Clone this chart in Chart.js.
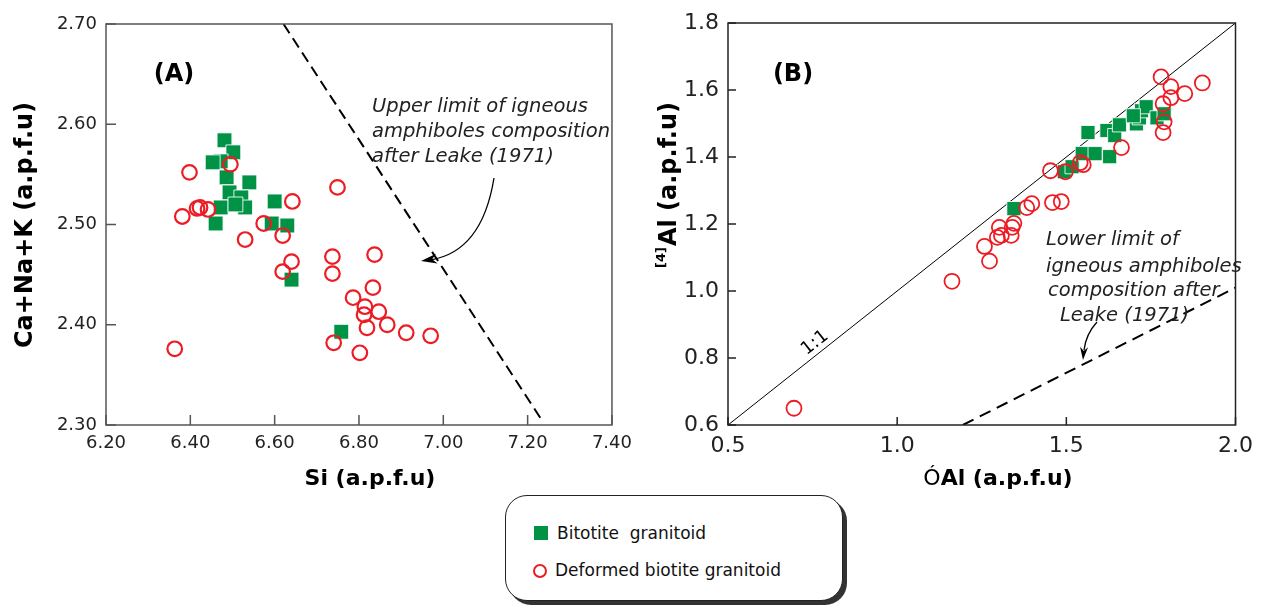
<!DOCTYPE html>
<html>
<head>
<meta charset="utf-8">
<script src="https://cdn.jsdelivr.net/npm/chart.js@4.4.1/dist/chart.umd.min.js"></script>
<style>
  html, body { margin: 0; padding: 0; background: #fff; }
  body { width: 1261px; height: 606px; position: relative; overflow: hidden; font-family: "DejaVu Sans", sans-serif; }
  #wrapA { position: absolute; left: 0; top: 0; width: 640px; height: 490px; }
  #wrapB { position: absolute; left: 640px; top: 0; width: 621px; height: 490px; }
  #legend { position: absolute; left: 505px; top: 495px; width: 336px; height: 104px; border: 1.5px solid #222; border-radius: 22px; box-shadow: 4px 4px 0 #333; background: #fff; }
  .li { position: absolute; font-size: 17px; color: #111; white-space: pre; line-height: 20px; }
  .sq { position: absolute; width: 14px; height: 14px; background: #009245; }
  .ci { position: absolute; width: 10px; height: 10px; border: 2px solid #ed1c24; border-radius: 50%; }
</style>
</head>
<body>
<div id="wrapA"><canvas id="cA" width="640" height="490"></canvas></div>
<div id="wrapB"><canvas id="cB" width="621" height="490"></canvas></div>
<div id="legend">
  <div class="sq" style="left:28px; top:30px;"></div>
  <div class="li" id="lab1" style="left:51px; top:27px;"></div>
  <div class="ci" style="left:27px; top:68px;"></div>
  <div class="li" id="lab2" style="left:49px; top:64px;"></div>
</div>
<script>
// ---------- DATA ----------
const seriesNames = ["Bitotite  granitoid", "Deformed biotite granitoid"];

// Panel A : Si vs Ca+Na+K
const siBiotite   = [6.481, 6.502, 6.472, 6.453, 6.486, 6.540, 6.493, 6.521, 6.530, 6.472, 6.507, 6.600, 6.460, 6.593, 6.630, 6.640, 6.758];
const cnkBiotite  = [2.584, 2.572, 2.563, 2.562, 2.547, 2.542, 2.532, 2.527, 2.517, 2.517, 2.520, 2.523, 2.501, 2.501, 2.499, 2.445, 2.393];
const siDeformed  = [6.363, 6.381, 6.398, 6.416, 6.423, 6.442, 6.495, 6.530, 6.574, 6.619, 6.642, 6.640, 6.619, 6.749, 6.737, 6.837, 6.737, 6.833, 6.786, 6.814, 6.847, 6.812, 6.819, 6.867, 6.912, 6.970, 6.740, 6.802];
const cnkDeformed = [2.376, 2.508, 2.552, 2.516, 2.517, 2.515, 2.560, 2.485, 2.501, 2.489, 2.523, 2.463, 2.453, 2.537, 2.468, 2.470, 2.451, 2.437, 2.427, 2.418, 2.413, 2.410, 2.397, 2.400, 2.392, 2.389, 2.382, 2.372];
const upperLimitSi  = [6.621, 7.235];
const upperLimitCnk = [2.700, 2.304];

// Panel B : total Al vs [4]Al
const alTotBiotite   = [1.345, 1.494, 1.517, 1.547, 1.585, 1.628, 1.564, 1.620, 1.643, 1.657, 1.707, 1.716, 1.722, 1.736, 1.768, 1.789, 1.698];
const al4Biotite     = [1.246, 1.356, 1.371, 1.410, 1.410, 1.401, 1.473, 1.479, 1.464, 1.496, 1.499, 1.517, 1.538, 1.550, 1.517, 1.529, 1.523];
const alTotDeformed  = [0.695, 1.162, 1.273, 1.258, 1.296, 1.302, 1.308, 1.337, 1.340, 1.345, 1.383, 1.398, 1.459, 1.485, 1.453, 1.497, 1.541, 1.550, 1.663, 1.780, 1.809, 1.850, 1.902, 1.809, 1.786, 1.789, 1.786];
const al4Deformed    = [0.650, 1.029, 1.089, 1.133, 1.160, 1.190, 1.166, 1.166, 1.190, 1.202, 1.249, 1.261, 1.264, 1.267, 1.359, 1.356, 1.383, 1.377, 1.428, 1.639, 1.610, 1.589, 1.621, 1.577, 1.559, 1.505, 1.473];
const oneToOneX = [0.5, 2.0];
const oneToOneY = [0.6, 1.8];
const lowerLimitX = [1.194, 2.0];
const lowerLimitY = [0.6, 1.01];

const ticksA_x = [6.2, 7.4, 0.2];
const ticksA_y = [2.3, 2.7, 0.1];
const ticksB_x = [0.5, 2.0, 0.5];
const ticksB_y = [0.6, 1.8, 0.2];

// ---------- HELPERS ----------
const pts = (xs, ys) => xs.map((x, i) => ({ x: x, y: ys[i] }));
const GREEN = "#009245", RED = "#ed1c24";
const FONT = "'DejaVu Sans', sans-serif";

document.getElementById("lab1").textContent = seriesNames[0];
document.getElementById("lab2").textContent = seriesNames[1];

function arrowHead(ctx, x, y, ang, len, wid) {
  ctx.save();
  ctx.translate(x, y); ctx.rotate(ang);
  ctx.beginPath(); ctx.moveTo(0, 0); ctx.lineTo(-len, -wid / 2); ctx.lineTo(-len * 0.7, 0); ctx.lineTo(-len, wid / 2); ctx.closePath();
  ctx.fillStyle = "#000"; ctx.fill();
  ctx.restore();
}

function frameAndTicks(chart, color, len) {
  const ctx = chart.ctx, a = chart.chartArea;
  ctx.save();
  ctx.strokeStyle = color; ctx.lineWidth = 1.5;
  ctx.strokeRect(a.left, a.top, a.right - a.left, a.bottom - a.top);
  const xs = chart.scales.x, ys = chart.scales.y;
  ctx.beginPath();
  xs.ticks.forEach(t => { const p = xs.getPixelForValue(t.value); ctx.moveTo(p, a.bottom); ctx.lineTo(p, a.bottom - len); });
  ys.ticks.forEach(t => { const p = ys.getPixelForValue(t.value); ctx.moveTo(a.left, p); ctx.lineTo(a.left + len, p); });
  ctx.stroke();
  ctx.restore();
}

const decorA = {
  id: "decorA",
  afterDraw(chart) {
    const ctx = chart.ctx;
    frameAndTicks(chart, "#555", 10);
    ctx.save();
    ctx.fillStyle = "#000";
    ctx.font = "bold 22px " + FONT; ctx.textAlign = "center"; ctx.textBaseline = "middle";
    ctx.fillText("Si (a.p.f.u)", 370, 479);
    ctx.save(); ctx.translate(26, 225); ctx.rotate(-Math.PI / 2);
    ctx.font = "bold 24px " + FONT;
    ctx.fillText("Ca+Na+K (a.p.f.u)", 0, 0); ctx.restore();
    ctx.font = "bold 24px " + FONT; ctx.fillText("(A)", 174, 75);
    ctx.font = "italic 19.5px " + FONT; ctx.textAlign = "left";
    ctx.fillStyle = "#222";
    ctx.fillText("Upper limit of igneous", 372, 107);
    ctx.fillText("amphiboles composition", 372, 132);
    ctx.fillText("after Leake (1971)", 372, 157);
    ctx.strokeStyle = "#000"; ctx.lineWidth = 1.3;
    ctx.beginPath(); ctx.moveTo(494, 178); ctx.quadraticCurveTo(482, 252, 430, 260); ctx.stroke();
    arrowHead(ctx, 421, 261, Math.PI - 0.15, 16, 10);
    ctx.restore();
  }
};

const decorB = {
  id: "decorB",
  afterDraw(chart) {
    const ctx = chart.ctx;
    frameAndTicks(chart, "#222", 8);
    const ox = -640;
    ctx.save();
    ctx.fillStyle = "#000"; ctx.textBaseline = "middle";
    // x title
    ctx.font = "22px " + FONT; const w1 = ctx.measureText("Ó").width;
    ctx.font = "bold 22px " + FONT; const w2 = ctx.measureText("Al (a.p.f.u)").width;
    let sx = 998 + ox - (w1 + w2) / 2;
    ctx.textAlign = "left";
    ctx.font = "22px " + FONT; ctx.fillText("Ó", sx, 479);
    ctx.font = "bold 22px " + FONT; ctx.fillText("Al (a.p.f.u)", sx + w1, 479);
    // y title
    ctx.save(); ctx.translate(670 + ox, 268); ctx.rotate(-Math.PI / 2);
    ctx.font = "bold 13px " + FONT; const ws = ctx.measureText("[4]").width;
    ctx.fillText("[4]", 0, -8);
    ctx.font = "bold 24px " + FONT; ctx.fillText("Al (a.p.f.u)", ws + 1, 0);
    ctx.restore();
    // panel label
    ctx.textAlign = "center";
    ctx.font = "bold 24px " + FONT; ctx.fillText("(B)", 793 + ox, 75);
    // 1:1
    ctx.save(); ctx.translate(815 + ox, 343); ctx.rotate(-0.665);
    ctx.font = "18px " + FONT; ctx.fillText("1:1", 0, 0); ctx.restore();
    // annotation
    ctx.textAlign = "left"; ctx.fillStyle = "#222";
    ctx.font = "italic 19.5px " + FONT;
    ctx.fillText("Lower limit of", 1046 + ox, 240);
    ctx.fillText("igneous amphiboles", 1046 + ox, 267);
    ctx.fillText("composition after", 1048 + ox, 291);
    ctx.fillText("Leake (1971)", 1060 + ox, 316);
    ctx.strokeStyle = "#000"; ctx.lineWidth = 1.3;
    ctx.beginPath(); ctx.moveTo(1097 + ox, 322); ctx.quadraticCurveTo(1086 + ox, 334, 1084 + ox, 350); ctx.stroke();
    arrowHead(ctx, 1083 + ox, 360, Math.PI / 2 + 0.08, 13, 8);
    ctx.restore();
  }
};

function baseScales(xr, yr, yW, xH, fontSize, fmt) {
  const tickFont = { family: FONT, size: fontSize };
  return {
    x: {
      type: "linear", min: xr[0], max: xr[1],
      ticks: { stepSize: xr[2], font: tickFont, color: "#222", padding: 8, maxRotation: 0, autoSkip: false,
               callback: v => v.toFixed(fmt[0]) },
      grid: { display: false, drawTicks: false },
      border: { display: false },
      afterFit: s => { s.height = xH; }
    },
    y: {
      type: "linear", min: yr[0], max: yr[1],
      ticks: { stepSize: yr[2], font: tickFont, color: "#222", padding: 9, autoSkip: false,
               callback: v => v.toFixed(fmt[1]) },
      grid: { display: false, drawTicks: false },
      border: { display: false },
      afterFit: s => { s.width = yW; }
    }
  };
}

const common = {
  responsive: false, animation: false, devicePixelRatio: 1,
  plugins: { legend: { display: false }, tooltip: { enabled: false } }
};

new Chart(document.getElementById("cA"), {
  type: "scatter",
  data: {
    datasets: [
      { label: "upper", data: pts(upperLimitSi, upperLimitCnk), showLine: true, borderColor: "#000", borderWidth: 2, borderDash: [11, 6], pointRadius: 0, order: 3 },
      { label: seriesNames[0], data: pts(siBiotite, cnkBiotite), pointStyle: "rect", pointRadius: 10.5, backgroundColor: GREEN, borderColor: "rgba(255,255,255,0.85)", borderWidth: 1, order: 2 },
      { label: seriesNames[1], data: pts(siDeformed, cnkDeformed), pointStyle: "circle", pointRadius: 7.3, backgroundColor: "rgba(0,0,0,0)", borderColor: RED, borderWidth: 2.2, order: 1 }
    ]
  },
  options: Object.assign({}, common, {
    layout: { padding: { top: 24, right: 18, left: 0, bottom: 0 } },
    scales: baseScales(ticksA_x, ticksA_y, 106, 65, 18, [2, 2])
  }),
  plugins: [decorA]
});

new Chart(document.getElementById("cB"), {
  type: "scatter",
  data: {
    datasets: [
      { label: "1:1", data: pts(oneToOneX, oneToOneY), showLine: true, borderColor: "#000", borderWidth: 1, pointRadius: 0, order: 4 },
      { label: "lower", data: pts(lowerLimitX, lowerLimitY), showLine: true, borderColor: "#000", borderWidth: 2, borderDash: [12, 7], pointRadius: 0, order: 3 },
      { label: seriesNames[0], data: pts(alTotBiotite, al4Biotite), pointStyle: "rect", pointRadius: 10, backgroundColor: GREEN, borderColor: "rgba(255,255,255,0.85)", borderWidth: 1, order: 2 },
      { label: seriesNames[1], data: pts(alTotDeformed, al4Deformed), pointStyle: "circle", pointRadius: 7.5, backgroundColor: "rgba(0,0,0,0)", borderColor: RED, borderWidth: 1.8, order: 1 }
    ]
  },
  options: Object.assign({}, common, {
    layout: { padding: { top: 23, right: 19, left: 0, bottom: 0 } },
    scales: baseScales(ticksB_x, ticksB_y, 88, 65, 22, [1, 1])
  }),
  plugins: [decorB]
});
</script>
</body>
</html>
